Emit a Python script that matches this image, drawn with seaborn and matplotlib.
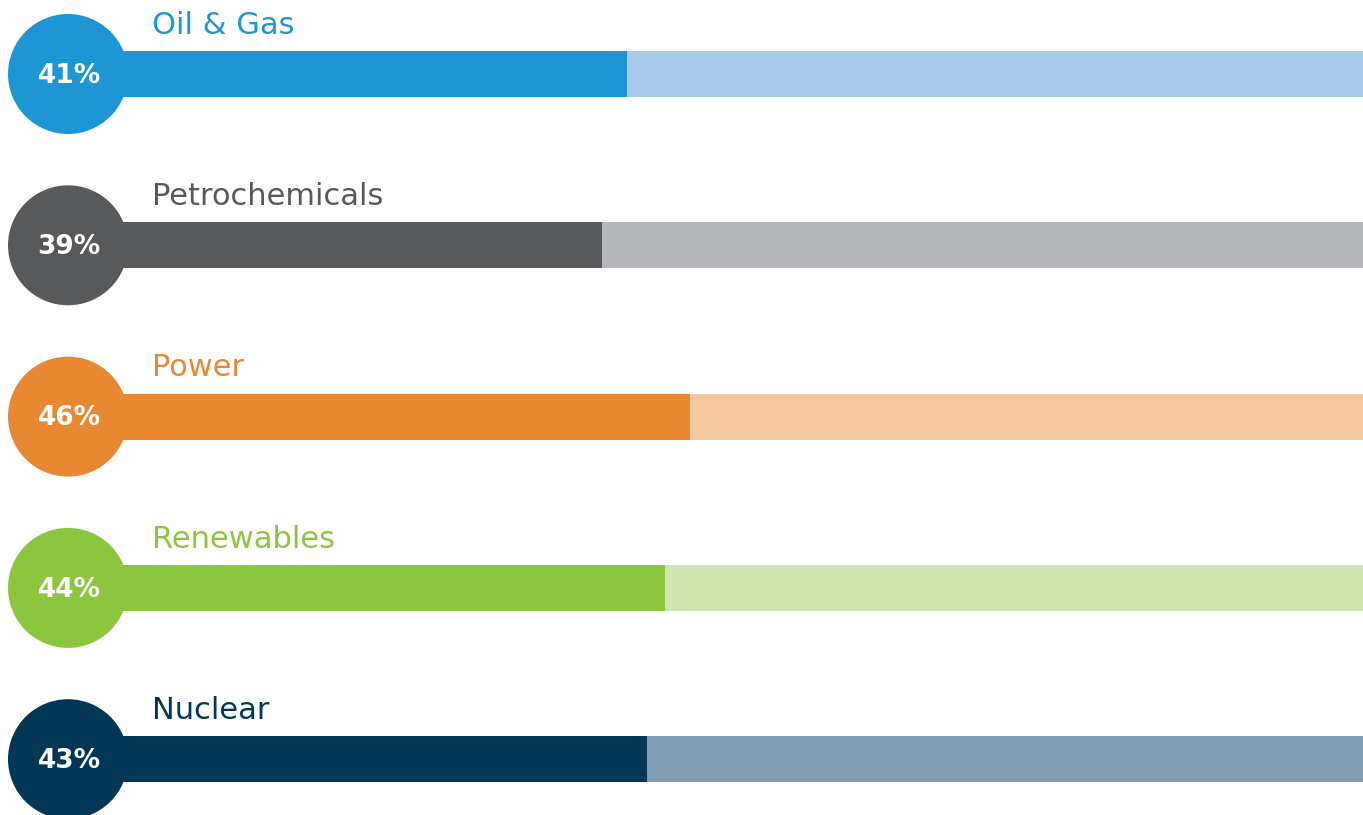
import matplotlib
matplotlib.use("Agg")
import matplotlib.pyplot as plt
import seaborn as sns
import pandas as pd

# data
sectors = ["Oil & Gas", "Petrochemicals", "Power", "Renewables", "Nuclear"]
shares = [41, 39, 46, 44, 43]              # printed labels
bar_lengths = [41, 39, 46, 44, 42.6]       # bar ends as drawn in the picture
dark_colors = ["#1e96d3", "#58595b", "#e98832", "#8cc63f", "#023856"]
light_colors = ["#a9c9ea", "#b6b7ba", "#f5c9a0", "#d0e4b0", "#809db5"]

df = pd.DataFrame({"sector": sectors, "share": bar_lengths, "full": [100] * len(sectors)})

sns.set_style("white")
plt.rcParams["font.family"] = ["DejaVu Sans"]

fig = plt.figure(figsize=(13.63, 8.15), dpi=100)
ax = fig.add_axes([0, 0, 1, 1])

bar_h = 46 / 171.3
# background (remaining) bars
sns.barplot(data=df, x="full", y="sector", hue="sector", palette=light_colors,
            orient="h", width=bar_h, legend=False, ax=ax, saturation=1, linewidth=0)
# filled share bars
sns.barplot(data=df, x="share", y="sector", hue="sector", palette=dark_colors,
            orient="h", width=bar_h, legend=False, ax=ax, saturation=1, linewidth=0)

# stretch the bars back to the circle centre
for i, c in enumerate(dark_colors):
    ax.barh(i, 3.6, left=-3.5, height=bar_h, color=c, linewidth=0, zorder=2)

px = 12.57  # pixels per percent
circle_x = (68 - 112) / px
ax.scatter([circle_x] * len(sectors), range(len(sectors)), s=(120 * 0.72) ** 2,
           c=dark_colors, zorder=3, linewidths=0)

for i, (name, val, c) in enumerate(zip(sectors, shares, dark_colors)):
    ax.text((69 - 112) / px, i + 0.01, f"{val}%", color="white", fontsize=19,
            fontweight="bold", ha="center", va="center", zorder=4)
    ax.text((152 - 112) / px, i - 0.285, name, color=c, fontsize=22,
            ha="left", va="center", zorder=4)

ax.set_xlim(-112 / px, (1363 - 112) / px)
ax.set_ylim((815 - 74) / 171.3, -74 / 171.3)
ax.axis("off")

fig.savefig("out.png", dpi=100)
